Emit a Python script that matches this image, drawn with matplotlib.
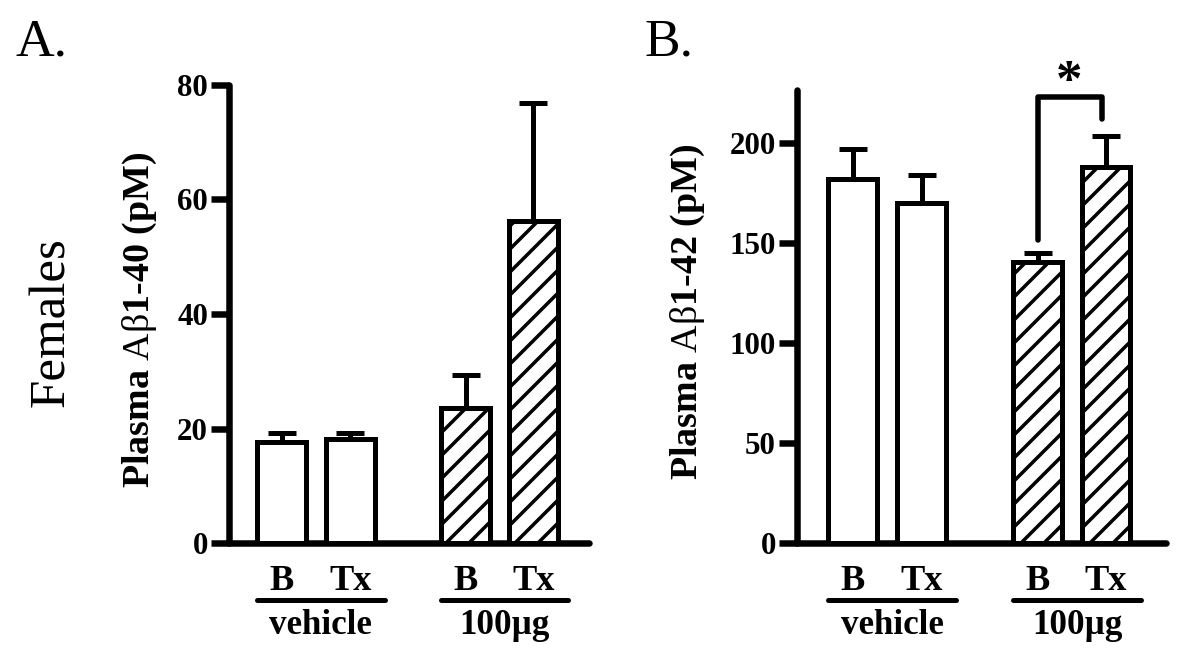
import matplotlib.pyplot as plt
from matplotlib import transforms

DPI = 138
P = 72 / DPI  # pixels -> points

plt.rcParams['font.family'] = ['Liberation Serif', 'DejaVu Serif']
plt.rcParams['mathtext.fontset'] = 'custom'
plt.rcParams['mathtext.rm'] = 'Liberation Serif'
plt.rcParams['hatch.linewidth'] = 3.5 * P

# data
conditions = ['B', 'Tx', 'B', 'Tx']
groups = ['vehicle', '100µg']
hatched = [False, False, True, True]
ab40_mean = [17.7, 18.1, 23.6, 56.3]
ab40_sem = [1.5, 1.1, 5.7, 20.6]
ab42_mean = [182, 170, 140.4, 188]
ab42_sem = [15, 14, 4.4, 15.6]
xpos = [0, 1, 2.68, 3.67]

fig = plt.figure(figsize=(1200 / DPI, 661 / DPI), dpi=DPI)


def px_box(left, right, top, bottom):
    return [left / 1200, 1 - bottom / 661, (right - left) / 1200, (bottom - top) / 661]


axA = fig.add_axes(px_box(229, 589, 85, 543))
axB = fig.add_axes(px_box(797, 1166, 90, 543))


def draw_panel(ax, means, sems, ylim, yticks, xlim):
    for x, m, h in zip(xpos, means, hatched):
        ax.bar(x, m, width=0.71, color='white', edgecolor='black',
               linewidth=5 * P, hatch='//' if h else None, zorder=3)
    ax.errorbar(xpos, means, yerr=[[0] * 4, sems], fmt='none', ecolor='black',
                elinewidth=5 * P, capsize=14 * P, capthick=5 * P, zorder=2)
    ax.set_xlim(*xlim)
    ax.set_ylim(*ylim)
    ax.set_yticks(yticks)
    ax.set_xticks([])
    for s in ['top', 'right']:
        ax.spines[s].set_visible(False)
    for s in ['left', 'bottom']:
        ax.spines[s].set_linewidth(6.5 * P)
        ax.spines[s].set_capstyle('round')
    ax.tick_params(axis='y', direction='out', length=18 * P, width=6.5 * P,
                   pad=3 * P, labelsize=31 * P)
    for lbl in ax.get_yticklabels():
        lbl.set_fontweight('bold')

    def trans(dy):
        return transforms.offset_copy(ax.get_xaxis_transform(), fig=fig,
                                      x=0, y=-dy, units='dots')

    for x, c in zip(xpos, conditions):
        ax.text(x, 0, c, transform=trans(38), ha='center', va='center',
                fontsize=36.5 * P, fontweight='bold')
    for i, g in enumerate(groups):
        x0 = xpos[2 * i]
        ax.plot([x0 - 0.36, x0 + 1.5], [0, 0], transform=trans(57), color='black',
                lw=5 * P, solid_capstyle='round', clip_on=False)
        ax.text(x0 + 0.57, 0, g, transform=trans(82), ha='center', va='center',
                fontsize=35 * P, fontweight='bold')


draw_panel(axA, ab40_mean, ab40_sem, (0, 80), [0, 20, 40, 60, 80], (-0.77, 4.48))
draw_panel(axB, ab42_mean, ab42_sem, (0, 226.5), [0, 50, 100, 150, 200], (-0.81, 4.54))

# significance bracket in panel B
axB.plot([xpos[2], xpos[2], xpos[3] - 0.06, xpos[3] - 0.06],
         [151.6, 223, 223, 212], color='black', lw=5.5 * P,
         solid_joinstyle='round', solid_capstyle='round', clip_on=False)
axB.text(3.13, 223.5, '*', ha='center', va='baseline', fontsize=53 * P,
         fontweight='bold', clip_on=False)

# y labels and panel letters
fig.text(140 / 1200, 1 - 320 / 661, r'Plasma $\mathrm{A\beta}$1-40 (pM)', rotation=90,
         ha='center', va='center', fontsize=38 * P, fontweight='bold')
fig.text(688 / 1200, 1 - 312 / 661, r'Plasma $\mathrm{A\beta}$1-42 (pM)', rotation=90,
         ha='center', va='center', fontsize=38 * P, fontweight='bold')
fig.text(52 / 1200, 1 - 322 / 661, 'Females', rotation=90, ha='center', va='center',
         fontsize=51 * P)
fig.text(15 / 1200, 1 - 55 / 661, 'A.', ha='left', va='baseline', fontsize=53.5 * P)
fig.text(645 / 1200, 1 - 55 / 661, 'B.', ha='left', va='baseline', fontsize=53.5 * P)

fig.savefig('out.png', dpi=DPI)
